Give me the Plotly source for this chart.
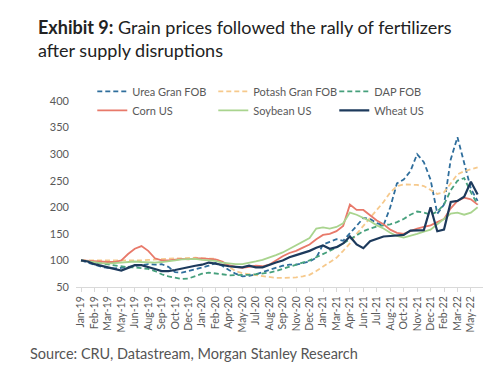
import plotly.graph_objects as go

# week index (0 = first week of Jan-2019), sampled every 3 weeks
weeks = list(range(0, 178, 3))

tick_weeks = list(range(0, 175, 6))
tick_labels = ["Jan-19", "Feb-19", "Mar-19", "May-19", "Jun-19", "Aug-19", "Sep-19", "Oct-19",
               "Dec-19", "Jan-20", "Feb-20", "Apr-20", "May-20", "Jul-20", "Aug-20", "Sep-20",
               "Nov-20", "Dec-20", "Jan-21", "Mar-21", "Apr-21", "Jun-21", "Jul-21", "Aug-21",
               "Oct-21", "Nov-21", "Dec-21", "Feb-22", "Mar-22", "May-22"]

urea = [100, 96, 92, 88, 86, 85, 86, 88, 90, 92,
        93, 92, 93, 88, 78, 77, 80, 84, 86, 90,
        95, 90, 82, 75, 70, 71, 74, 78, 82, 86,
        90, 92, 92, 95, 98, 105, 130, 135, 140, 137,
        150, 165, 180, 178, 170, 166, 200, 245, 252, 268,
        300, 285, 252, 188, 205, 290, 332, 285, 235, 212]

potash = [100, 100, 99, 99, 99, 99, 99, 99, 100, 100,
          101, 102, 103, 103, 104, 104, 105, 105, 104, 104,
          103, 96, 88, 80, 76, 74, 72, 70, 68, 67,
          67, 67, 68, 70, 73, 80, 88, 96, 105, 118,
          132, 150, 165, 180, 195, 210, 228, 240, 243, 243,
          242, 240, 232, 225, 228, 245, 262, 268, 272, 275]

dap = [100, 98, 96, 94, 92, 90, 88, 87, 87, 86,
       84, 80, 74, 70, 67, 65, 66, 70, 75, 77,
       76, 74, 72, 72, 72, 73, 74, 75, 77, 80,
       84, 88, 92, 96, 100, 106, 112, 118, 124, 132,
       140, 148, 155, 160, 164, 166, 168, 172, 178, 186,
       192, 190, 186, 192, 205, 232, 250, 255, 228, 205]

corn = [100, 99, 98, 98, 97, 97, 100, 112, 122, 127,
        118, 104, 100, 100, 102, 103, 102, 104, 104, 103,
        102, 98, 91, 88, 86, 88, 90, 89, 92, 100,
        108, 114, 118, 124, 130, 140, 148, 150, 155, 165,
        205, 195, 195, 185, 175, 168, 158, 152, 150, 155,
        160, 163, 166, 172, 178, 198, 212, 218, 215, 205]

soybean = [100, 98, 96, 95, 94, 95, 96, 97, 98, 97,
           96, 96, 97, 98, 100, 102, 103, 103, 101, 100,
           99, 96, 94, 93, 93, 95, 98, 101, 105, 110,
           115, 122, 128, 135, 142, 160, 162, 160, 163, 170,
           190, 186, 180, 174, 166, 160, 152, 146, 143, 146,
           150, 154, 158, 168, 178, 188, 190, 186, 190, 200]

wheat = [100, 98, 93, 90, 88, 84, 81, 86, 91, 91,
         88, 84, 80, 80, 82, 85, 88, 90, 92, 96,
         94, 91, 89, 88, 87, 90, 87, 87, 92, 96,
         100, 106, 110, 114, 118, 124, 128, 122, 125, 132,
         145, 130, 123, 136, 140, 145, 146, 147, 148, 156,
         157, 157, 200, 155, 158, 210, 212, 220, 248, 224]

series = [
    ("Urea Gran FOB", urea, "#2f6e9c", "5px,3px", 1.8),
    ("Potash Gran FOB", potash, "#f6c98c", "5px,3px", 1.8),
    ("DAP FOB", dap, "#46a07c", "5px,3px", 1.8),
    ("Corn US", corn, "#e8796a", "solid", 1.8),
    ("Soybean US", soybean, "#a9d48e", "solid", 1.8),
    ("Wheat US", wheat, "#1d3a5c", "solid", 2.2),
]

fig = go.Figure()
for name, vals, color, dash, w in series:
    fig.add_trace(go.Scatter(x=weeks, y=vals, mode="lines", name=name,
                             line=dict(color=color, width=w, dash=dash)))

fig.update_layout(
    width=500, height=374,
    paper_bgcolor="white", plot_bgcolor="white",
    margin=dict(l=68, r=25, t=93, b=95),
    showlegend=True,
    legend=dict(orientation="h", x=0.04, xanchor="left", y=1.13, yanchor="top",
                entrywidth=76, entrywidthmode="pixels", tracegroupgap=0,
                font=dict(family="Lato", size=11, color="#595959"),
                bgcolor="rgba(0,0,0,0)"),
    xaxis=dict(range=[-2.23, 179.4], tickmode="array", tickvals=tick_weeks, ticktext=tick_labels,
               tickangle=-90, showgrid=False, zeroline=False, showline=True, linecolor="#d9d9d9",
               ticks="outside", ticklen=4, tickcolor="#d9d9d9",
               tickfont=dict(family="Lato", size=10.5, color="#595959")),
    yaxis=dict(range=[50, 400], tickvals=[50, 100, 150, 200, 250, 300, 350, 400],
               showgrid=False, zeroline=False, showline=False, ticks="", ticklabelstandoff=6,
               tickfont=dict(family="Lato", size=11, color="#595959")),
    annotations=[
        dict(text="<b>Exhibit 9:</b> Grain prices followed the rally of fertilizers<br>after supply disruptions",
             xref="paper", yref="paper", x=-0.098, y=1.47, xanchor="left", yanchor="top",
             align="left", showarrow=False,
             font=dict(family="Lato", size=18, color="#222222")),
        dict(text="Source: CRU, Datastream, Morgan Stanley Research",
             xref="paper", yref="paper", x=-0.118, y=-0.302, xanchor="left", yanchor="top",
             showarrow=False, font=dict(family="Lato", size=14.5, color="#555555")),
    ],
)

fig.write_html("out.html")
